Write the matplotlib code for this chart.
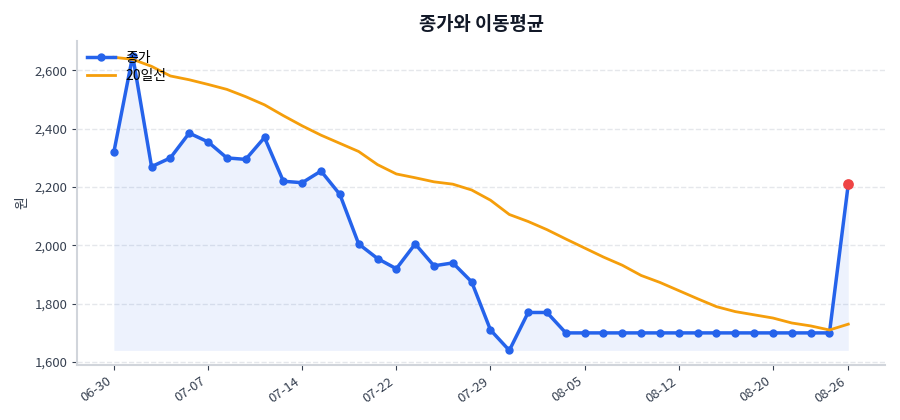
import numpy as np
import matplotlib
matplotlib.use("Agg")
import matplotlib.pyplot as plt

plt.rcParams["font.family"] = ["Noto Sans CJK KR", "DejaVu Sans"]

# trading days (MM-DD)
dates = ["06-30", "07-01", "07-02", "07-03", "07-04", "07-07", "07-08", "07-09",
         "07-10", "07-11", "07-14", "07-15", "07-16", "07-17", "07-18", "07-22",
         "07-23", "07-24", "07-25", "07-28", "07-29", "07-30", "07-31", "08-01",
         "08-04", "08-05", "08-06", "08-07", "08-08", "08-11", "08-12", "08-13",
         "08-14", "08-18", "08-19", "08-20", "08-21", "08-22", "08-25", "08-26"]

close = [2320, 2650, 2270, 2300, 2385, 2355, 2300, 2295, 2370, 2220,
         2215, 2255, 2175, 2005, 1955, 1920, 2005, 1930, 1940, 1875,
         1710, 1640, 1770, 1770, 1700, 1700, 1700, 1700, 1700, 1700,
         1700, 1700, 1700, 1700, 1700, 1700, 1700, 1700, 1700, 2210]

ma20 = [2645, 2638, 2614, 2581, 2568, 2552, 2535, 2510, 2482, 2445,
        2410, 2378, 2350, 2322, 2277, 2245, 2232, 2218, 2210, 2190,
        2155, 2106, 2082, 2054, 2022, 1991, 1960, 1932, 1897, 1873,
        1845, 1817, 1790, 1773, 1762, 1751, 1734, 1724, 1710, 1730]

x = np.arange(len(close))
tick_pos = list(range(0, len(close), 5)) + [len(close) - 1]

fig, ax = plt.subplots(figsize=(9, 4.2), dpi=100)

ax.fill_between(x, close, min(close), color="#2563eb", alpha=0.08, linewidth=0)
ax.plot(x, close, color="#2563eb", linewidth=2.5, marker="o", markersize=5, label="종가")
ax.plot(x, ma20, color="#f59e0b", linewidth=2, label="20일선")
ax.scatter([x[-1]], [close[-1]], color="#ef4444", s=45, zorder=5)

ax.set_title("종가와 이동평균", fontsize=13.5, fontweight="bold", color="#111827", pad=8)
ax.set_ylabel("원", color="#374151", fontsize=10)
ax.set_xticks(tick_pos)
ax.set_xticklabels([dates[i] for i in tick_pos], rotation=35, ha="right")
ax.yaxis.set_major_formatter(matplotlib.ticker.FuncFormatter(lambda v, p: f"{v:,.0f}"))
ax.tick_params(colors="#374151", labelsize=9.5)

ax.grid(axis="y", linestyle="--", color="#e5e7eb", linewidth=1)
ax.set_axisbelow(True)
for s in ["top", "right"]:
    ax.spines[s].set_visible(False)
for s in ["left", "bottom"]:
    ax.spines[s].set_color("#d1d5db")
    ax.spines[s].set_linewidth(1.5)

ax.legend(loc="upper left", frameon=False, fontsize=10, borderaxespad=0.3,
          handlelength=2.0, labelspacing=0.3)

plt.tight_layout()
plt.savefig("out.png", dpi=100)
